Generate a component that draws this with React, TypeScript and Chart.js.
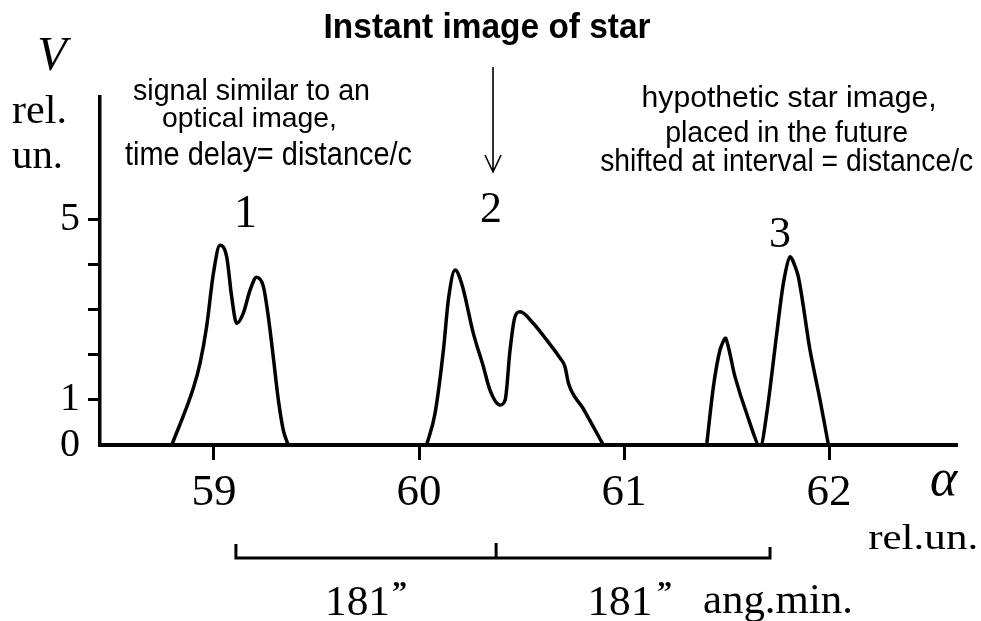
import React, { useEffect, useRef } from "react";
import { Chart, registerables } from "chart.js";

Chart.register(...registerables);

// ---- data ----
const xTicks = [59, 60, 61, 62];
const yTicks = [0, 1, 2, 3, 4, 5];
const yLabelled = [0, 1, 5];

// signal 1: "signal similar to an optical image"
const peak1X = [58.794, 58.899, 58.932, 58.964, 58.997, 59.029, 59.062, 59.086, 59.111, 59.143, 59.176, 59.208, 59.241, 59.265, 59.289, 59.314, 59.338, 59.362];
const peak1Y = [0, 1.26, 1.82, 2.63, 3.81, 4.44, 4.18, 3.3, 2.7, 2.93, 3.44, 3.73, 3.52, 2.85, 1.96, 1.0, 0.33, 0];

// signal 2: instant image of star
const peak2X = [60.037, 60.078, 60.119, 60.143, 60.176, 60.208, 60.265, 60.314, 60.346, 60.395, 60.42, 60.444, 60.468, 60.493, 60.558, 60.623, 60.688, 60.712, 60.729, 60.801, 60.899];
const peak2Y = [0, 0.7, 2.11, 3.22, 3.89, 3.59, 2.48, 1.74, 1.22, 0.89, 1.0, 2.11, 2.85, 2.96, 2.7, 2.33, 1.93, 1.74, 1.37, 0.81, 0];

// signal 3: hypothetic star image placed in the future
const peak3X = [61.403, 61.436, 61.468, 61.496, 61.541, 61.598, 61.663, 61.696, 61.745, 61.777, 61.81, 61.85, 61.907, 61.956, 61.997];
const peak3Y = [0, 1.3, 2.11, 2.37, 1.52, 0.7, -0.05, 0.7, 2.48, 3.59, 4.18, 3.74, 2.11, 1.0, 0];

// bracket below the axis (in alpha units)
const bracketX = [59.107, 60.376, 61.712];
const bracketLabels = ["181", "181"];

const SERIF = "'Liberation Serif', 'Times New Roman', Times, serif";
const NARROW = "'Liberation Sans Narrow', 'Arial Narrow', 'Liberation Sans', Arial, sans-serif";

type Note = { t: string; x: number; y: number; font: string; w?: number; align?: CanvasTextAlign };

const notes: Note[] = [
  { t: "Instant image of star", x: 60.332, y: 9.044, font: `bold 35px ${NARROW}`, w: 327 },
  { t: "signal similar to an", x: 59.183, y: 7.667, font: `29px ${NARROW}`, w: 237 },
  { t: "optical image,", x: 59.173, y: 7.06, font: `28px ${NARROW}`, w: 175 },
  { t: "time delay= distance/c", x: 59.266, y: 6.222, font: `34px ${NARROW}`, w: 287 },
  { t: "hypothetic star image,", x: 61.805, y: 7.518, font: `30px ${NARROW}`, w: 295 },
  { t: "placed in the future", x: 61.793, y: 6.74, font: `30px ${NARROW}`, w: 243 },
  { t: "shifted at interval = distance/c", x: 61.793, y: 6.096, font: `31px ${NARROW}`, w: 373 },
  { t: "1", x: 59.154, y: 4.844, font: `46px ${SERIF}` },
  { t: "2", x: 60.351, y: 4.956, font: `44px ${SERIF}` },
  { t: "3", x: 61.761, y: 4.4, font: `44px ${SERIF}` },
  { t: "V", x: 58.21, y: 8.333, font: `italic 48px ${SERIF}` },
  { t: "rel.", x: 58.015, y: 7.156, font: `40px ${SERIF}`, w: 55, align: "left" },
  { t: "un.", x: 58.015, y: 6.156, font: `40px ${SERIF}`, w: 51, align: "left" },
  { t: "\u03b1", x: 62.559, y: -1.111, font: `italic 52px ${SERIF}` },
  { t: "rel.un.", x: 62.459, y: -2.311, font: `36px ${SERIF}`, w: 110 },
  { t: bracketLabels[0], x: 59.7, y: -3.778, font: `42px ${SERIF}`, w: 65 },
  { t: "\u201d", x: 59.868, y: -3.467, font: `bold 30px ${SERIF}`, align: "left" },
  { t: bracketLabels[1], x: 60.98, y: -3.778, font: `42px ${SERIF}`, w: 65 },
  { t: "\u201d", x: 61.161, y: -3.467, font: `bold 30px ${SERIF}`, align: "left" },
  { t: "ang.min.", x: 61.385, y: -3.733, font: `42px ${SERIF}`, w: 150, align: "left" },
];

const toPoints = (xs: number[], ys: number[]) => xs.map((x, i) => ({ x, y: ys[i] }));

const annotations = {
  id: "annotations",
  afterDraw(chart: any) {
    const { ctx } = chart;
    const xs = chart.scales.x;
    const ys = chart.scales.y;
    const px = (v: number) => xs.getPixelForValue(v);
    const py = (v: number) => ys.getPixelForValue(v);
    ctx.save();
    ctx.fillStyle = "#000";
    ctx.strokeStyle = "#000";
    for (const n of notes) {
      ctx.save();
      ctx.font = n.font;
      ctx.textBaseline = "alphabetic";
      ctx.textAlign = n.align || "center";
      const m = ctx.measureText(n.t).width;
      const sx = n.w ? n.w / m : 1;
      ctx.translate(px(n.x), py(n.y));
      ctx.scale(sx, 1);
      ctx.fillText(n.t, 0, 0);
      ctx.restore();
    }
    // arrow pointing at image 2
    const ax = px(60.361);
    const ay0 = py(8.4);
    const ay1 = py(6.067);
    ctx.lineWidth = 1.6;
    ctx.beginPath();
    ctx.moveTo(ax, ay0);
    ctx.lineTo(ax, ay1);
    ctx.moveTo(ax - 8, ay1 - 17);
    ctx.lineTo(ax, ay1);
    ctx.lineTo(ax + 8, ay1 - 17);
    ctx.stroke();
    // bracket
    const by = py(-2.511);
    ctx.lineWidth = 3;
    ctx.lineCap = "butt";
    ctx.beginPath();
    ctx.moveTo(px(bracketX[0]), by);
    ctx.lineTo(px(bracketX[2]), by);
    ctx.moveTo(px(bracketX[0]), by + 1.5);
    ctx.lineTo(px(bracketX[0]), py(-2.2));
    ctx.moveTo(px(bracketX[1]), by);
    ctx.lineTo(px(bracketX[1]), py(-2.18));
    ctx.moveTo(px(bracketX[2]), by + 1.5);
    ctx.lineTo(px(bracketX[2]), py(-2.267));
    ctx.stroke();
    ctx.restore();
  },
};

const lineStyle = {
  borderColor: "#000",
  borderWidth: 3.5,
  pointRadius: 0,
  fill: false,
  borderJoinStyle: "round" as const,
  borderCapStyle: "round" as const,
};

export default function App() {
  const ref = useRef<HTMLCanvasElement | null>(null);
  useEffect(() => {
    document.body.style.margin = "0";
    const canvas = ref.current;
    if (!canvas) return;
    const chart = new Chart(canvas, {
      type: "line",
      data: {
        datasets: [
          { ...lineStyle, label: "1", data: toPoints(peak1X, peak1Y), cubicInterpolationMode: "monotone" },
          { ...lineStyle, label: "2", data: toPoints(peak2X, peak2Y), cubicInterpolationMode: "monotone" },
          { ...lineStyle, label: "3", data: toPoints(peak3X, peak3Y), tension: 0.25 },
        ],
      },
      options: {
        animation: false,
        responsive: false,
        maintainAspectRatio: false,
        layout: { padding: { top: 97, right: 24, left: 0, bottom: 0 } },
        plugins: { legend: { display: false }, tooltip: { enabled: false }, title: { display: false } },
        scales: {
          x: {
            type: "linear",
            position: "bottom",
            min: 58.444,
            max: 62.624,
            afterBuildTicks: (s: any) => {
              s.ticks = xTicks.map((v) => ({ value: v }));
            },
            afterFit: (s: any) => {
              s.height = 176;
            },
            ticks: {
              color: "#000",
              font: { family: SERIF, size: 45 },
              padding: 6,
              maxRotation: 0,
              autoSkip: false,
              callback: (v: any) => String(v),
            },
            grid: {
              display: true,
              drawOnChartArea: false,
              drawTicks: true,
              tickLength: 15,
              tickWidth: 3,
              tickColor: "#000",
            },
            border: { display: true, color: "#000", width: 4 },
          },
          y: {
            type: "linear",
            min: 0,
            max: 7.733,
            afterBuildTicks: (s: any) => {
              s.ticks = yTicks.map((v) => ({ value: v }));
            },
            afterFit: (s: any) => {
              s.width = 100;
            },
            ticks: {
              color: "#000",
              font: { family: SERIF, size: 40 },
              padding: 8,
              autoSkip: false,
              callback: (v: any) => (yLabelled.includes(Number(v)) ? String(v) : ""),
            },
            grid: {
              display: true,
              drawOnChartArea: false,
              drawTicks: true,
              tickLength: 12,
              tickWidth: 3,
              tickColor: (c: any) => (c.tick && c.tick.value === 0 ? "rgba(0,0,0,0)" : "#000"),
            },
            border: { display: true, color: "#000", width: 3.5 },
          },
        },
      },
      plugins: [annotations],
    });
    return () => chart.destroy();
  }, []);
  return (
    <div style={{ position: "absolute", left: 0, top: 0, width: 981, height: 621, background: "#fff" }}>
      <canvas ref={ref} width={981} height={621} style={{ width: 981, height: 621, display: "block" }} />
    </div>
  );
}
